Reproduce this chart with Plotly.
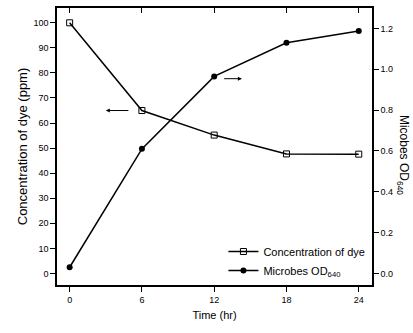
import plotly.graph_objects as go

time_hr = [0, 6, 12, 18, 24]
dye_ppm = [100, 65, 55.2, 47.7, 47.6]
microbes_od = [0.03, 0.61, 0.965, 1.13, 1.187]

x_ticks = [0, 6, 12, 18, 24]
left_ticks = [0, 10, 20, 30, 40, 50, 60, 70, 80, 90, 100]
right_ticks = [0.0, 0.2, 0.4, 0.6, 0.8, 1.0, 1.2]
right_tick_text = ["0.0", "0.2", "0.4", "0.6", "0.8", "1.0", "1.2"]

FONT = "Arial"
tickfont = dict(family=FONT, size=9, color="black")

fig = go.Figure()
fig.add_trace(go.Scatter(
    x=time_hr, y=dye_ppm, name="Concentration of dye", mode="lines+markers",
    line=dict(color="black", width=1.5),
    marker=dict(symbol="square-open", size=6, color="black", line=dict(width=1)),
    yaxis="y"))
fig.add_trace(go.Scatter(
    x=time_hr, y=microbes_od, name="Microbes OD<sub>640</sub>", mode="lines+markers",
    line=dict(color="black", width=1.5),
    marker=dict(symbol="circle", size=6, color="black"),
    yaxis="y2"))

fig.update_layout(
    width=413, height=333,
    margin=dict(l=57, r=41, t=6, b=48),
    plot_bgcolor="white", paper_bgcolor="white",
    font=dict(family=FONT, color="black"),
    xaxis=dict(range=[-1.05, 25.1], tickvals=x_ticks, ticks="outside", ticklen=5,
               tickwidth=1, tickcolor="black", showline=True, linecolor="black",
               linewidth=1.5, mirror=True, showgrid=False, zeroline=False,
               tickfont=tickfont,
               title=dict(text="Time (hr)", font=dict(family=FONT, size=11), standoff=8)),
    xaxis2=dict(range=[-1.05, 25.1], overlaying="x", side="top", tickvals=x_ticks,
                ticks="inside", ticklen=5, tickcolor="black", showticklabels=False,
                showgrid=False, zeroline=False, showline=False),
    yaxis=dict(range=[-4.6, 105.9], tickvals=left_ticks, ticks="outside", ticklen=5,
               tickwidth=1, tickcolor="black", showline=True, linecolor="black",
               linewidth=1.5, showgrid=False, zeroline=False, tickfont=tickfont,
               title=dict(text="Concentration of dye (ppm)",
                          font=dict(family=FONT, size=13), standoff=3)),
    yaxis2=dict(range=[-0.057, 1.30], tickvals=right_ticks, ticktext=right_tick_text,
                overlaying="y", side="right", ticks="outside", ticklen=5,
                tickwidth=1, tickcolor="black", showline=True, linecolor="black",
                linewidth=1.5, showgrid=False, zeroline=False, tickfont=tickfont),
    legend=dict(x=0.995, y=0.0, xanchor="right", yanchor="bottom",
                bgcolor="rgba(0,0,0,0)", font=dict(family=FONT, size=11),
                tracegroupgap=0, itemwidth=30),
    showlegend=True,
)

# invisible trace so the top axis with inward ticks is drawn
fig.add_trace(go.Scatter(x=[0], y=[0], xaxis="x2", yaxis="y", mode="markers",
                         marker=dict(opacity=0), showlegend=False, hoverinfo="skip"))

fig.add_annotation(text="Micobes OD<sub>640</sub>", textangle=90, xref="paper",
                   yref="paper", x=1.098, y=0.47, xanchor="center", yanchor="middle",
                   showarrow=False, font=dict(family=FONT, size=12))

fig.add_annotation(x=3.0, y=65, ax=5.0, ay=65, xref="x", yref="y", axref="x",
                   ayref="y", showarrow=True, arrowhead=2, arrowsize=0.8,
                   arrowwidth=1, arrowcolor="black", text="")
fig.add_annotation(x=14.3, y=77.7, ax=12.7, ay=77.7, xref="x", yref="y", axref="x",
                   ayref="y", showarrow=True, arrowhead=2, arrowsize=0.8,
                   arrowwidth=1, arrowcolor="black", text="")

fig.write_html("out.html")
